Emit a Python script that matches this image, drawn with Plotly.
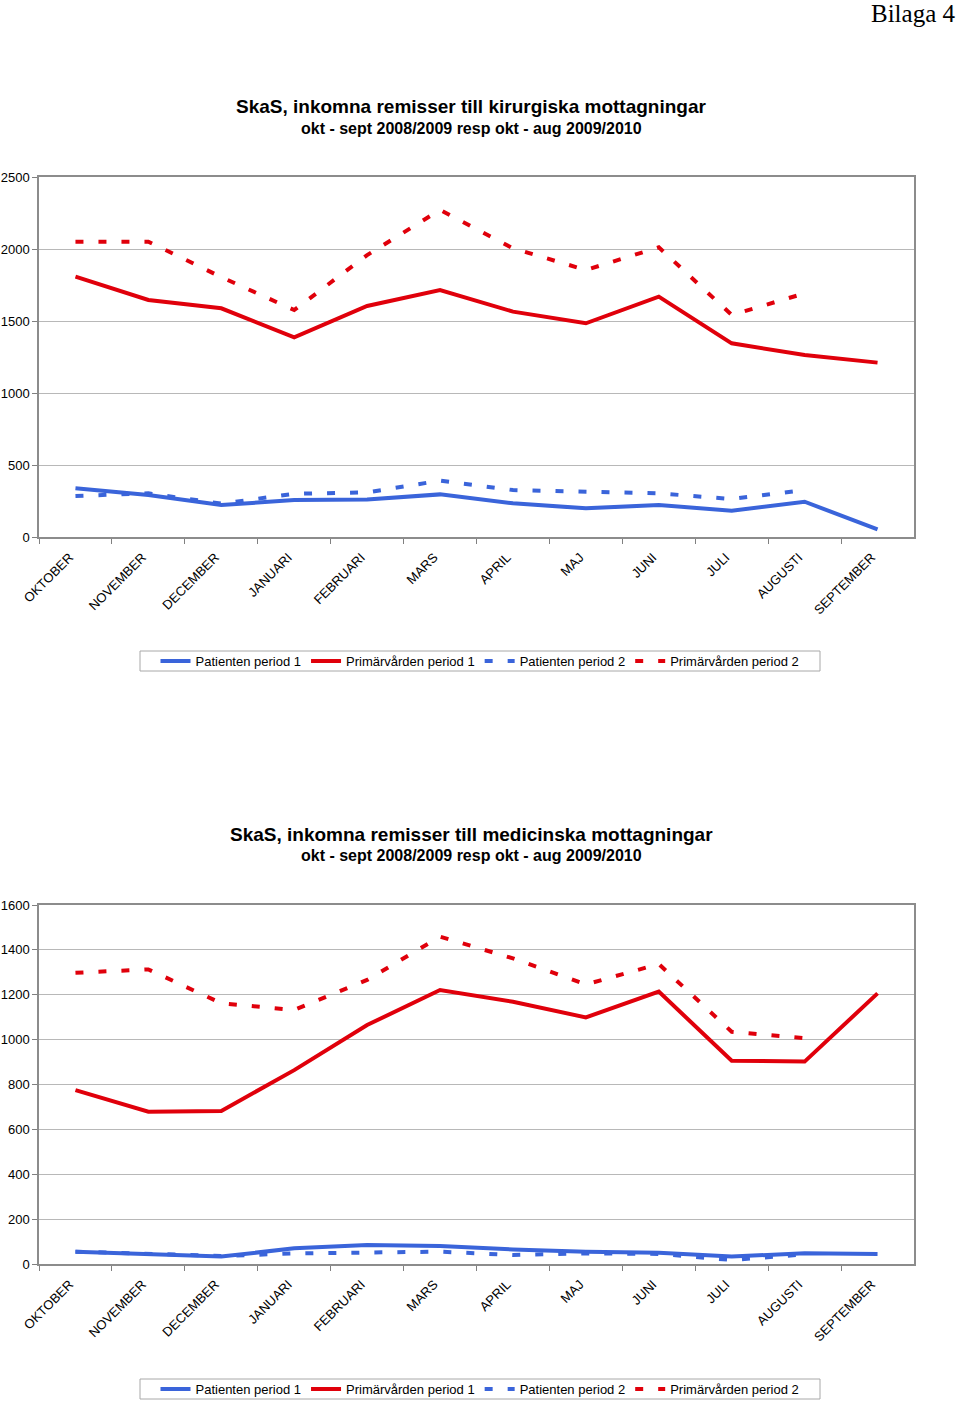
import plotly.graph_objects as go

months = ["OKTOBER", "NOVEMBER", "DECEMBER", "JANUARI", "FEBRUARI", "MARS",
          "APRIL", "MAJ", "JUNI", "JULI", "AUGUSTI", "SEPTEMBER"]
months_p2 = months[:11]

# Chart 1: kirurgiska mottagningar
kir_patient_p1 = [338, 292, 222, 257, 261, 296, 234, 199, 222, 183, 245, 53]
kir_primar_p1 = [1808, 1646, 1588, 1387, 1604, 1715, 1565, 1484, 1669, 1345, 1264, 1211]
kir_patient_p2 = [285, 303, 232, 300, 310, 391, 326, 315, 303, 264, 326]
kir_primar_p2 = [2051, 2051, 1805, 1576, 1958, 2271, 2005, 1854, 2012, 1542, 1692]

# Chart 2: medicinska mottagningar
med_patient_p1 = [55, 43, 33, 70, 85, 80, 65, 55, 50, 33, 48, 45]
med_primar_p1 = [775, 679, 682, 864, 1065, 1221, 1169, 1099, 1214, 906, 902, 1206]
med_patient_p2 = [55, 47, 36, 47, 50, 55, 40, 47, 45, 18, 43]
med_primar_p2 = [1298, 1313, 1162, 1132, 1266, 1459, 1362, 1246, 1337, 1035, 1006]

names = ["Patienten period 1", "Primärvården period 1",
         "Patienten period 2", "Primärvården period 2"]

BLUE = "#3A64DA"
RED = "#E0000B"
DASH = "8px,15px"
FONT = "Liberation Sans, Arial, sans-serif"

W, H = 960, 1403

def py(p):
    return 1 - p / H

def px(p):
    return p / W

fig = go.Figure()

def add_chart(xa, ya, leg, pat1, pri1, pat2, pri2):
    specs = [
        (months, pat1, BLUE, "solid", names[0]),
        (months, pri1, RED, "solid", names[1]),
        (months_p2, pat2, BLUE, DASH, names[2]),
        (months_p2, pri2, RED, DASH, names[3]),
    ]
    for x, y, c, d, n in specs:
        fig.add_trace(go.Scatter(
            x=x, y=y, mode="lines", name=n,
            line=dict(color=c, width=4, dash=d),
            xaxis=xa, yaxis=ya, legend=leg, hoverinfo="skip"))

add_chart("x", "y", "legend", kir_patient_p1, kir_primar_p1, kir_patient_p2, kir_primar_p2)
add_chart("x2", "y2", "legend2", med_patient_p1, med_primar_p1, med_patient_p2, med_primar_p2)

xaxis_common = dict(
    type="category", categoryorder="array", categoryarray=months,
    range=[-0.5, 11.5], tickangle=-45, tickson="boundaries",
    ticks="outside", ticklen=5, tickcolor="#808080",
    ticklabelstandoff=6, ticklabelshift=-6,
    showline=True, linecolor="#8C8C8C", linewidth=1.5, mirror=True,
    showgrid=False, zeroline=False, automargin=False,
    tickfont=dict(family=FONT, size=13, color="black"),
    domain=[px(39), px(914)], fixedrange=True,
)
yaxis_common = dict(
    ticks="outside", ticklen=5, tickcolor="#808080",
    showline=True, linecolor="#8C8C8C", linewidth=1.5, mirror=True,
    showgrid=True, gridcolor="#B8B8B8", gridwidth=1, zeroline=False,
    automargin=False,
    tickfont=dict(family=FONT, size=13, color="black"), fixedrange=True,
)

legend_common = dict(
    orientation="h", x=px(480), xanchor="center", yanchor="middle",
    borderwidth=0, bgcolor="rgba(0,0,0,0)",
    font=dict(family=FONT, size=13, color="black"),
    itemwidth=30, tracegroupgap=0,
)

fig.update_layout(
    width=W, height=H,
    margin=dict(l=0, r=0, t=0, b=0, autoexpand=False),
    paper_bgcolor="white", plot_bgcolor="white",
    xaxis=dict(**xaxis_common, anchor="y"),
    xaxis2=dict(**xaxis_common, anchor="y2"),
    yaxis=dict(**yaxis_common, anchor="x", domain=[py(537), py(177)],
               range=[0, 2500], tickvals=[0, 500, 1000, 1500, 2000, 2500]),
    yaxis2=dict(**yaxis_common, anchor="x2", domain=[py(1264), py(905)],
                range=[0, 1600], tickvals=[0, 200, 400, 600, 800, 1000, 1200, 1400, 1600]),
    legend=dict(**legend_common, y=py(661)),
    legend2=dict(**legend_common, y=py(1389)),
    showlegend=True,
)

# legend frames
shapes = []
for top, bot in [(651, 671), (1379, 1399)]:
    shapes.append(dict(type="rect", xref="paper", yref="paper",
                       x0=px(140), x1=px(820), y0=py(bot), y1=py(top),
                       line=dict(color="#A8A8A8", width=1), fillcolor="rgba(0,0,0,0)",
                       layer="below"))
fig.update_layout(shapes=shapes)

annotations = [
    dict(text="Bilaga 4", x=px(958), y=py(13), xanchor="right", yanchor="middle",
         font=dict(family="Liberation Serif, Times New Roman, serif", size=25, color="black")),
    dict(text="<b>SkaS, inkomna remisser till kirurgiska mottagningar</b>",
         x=px(471), y=py(106), xanchor="center", yanchor="middle",
         font=dict(family=FONT, size=19, color="black")),
    dict(text="<b>okt - sept 2008/2009 resp okt - aug 2009/2010</b>",
         x=px(471), y=py(128), xanchor="center", yanchor="middle",
         font=dict(family=FONT, size=16, color="black")),
    dict(text="<b>SkaS, inkomna remisser till medicinska mottagningar</b>",
         x=px(471), y=py(834), xanchor="center", yanchor="middle",
         font=dict(family=FONT, size=19, color="black")),
    dict(text="<b>okt - sept 2008/2009 resp okt - aug 2009/2010</b>",
         x=px(471), y=py(856), xanchor="center", yanchor="middle",
         font=dict(family=FONT, size=16, color="black")),
]
for a in annotations:
    a.update(xref="paper", yref="paper", showarrow=False)
fig.update_layout(annotations=annotations)

fig.write_html(
    "out.html",
    config={"displayModeBar": False},
    post_script="document.body.style.margin='0';document.body.style.overflow='hidden';",
)
